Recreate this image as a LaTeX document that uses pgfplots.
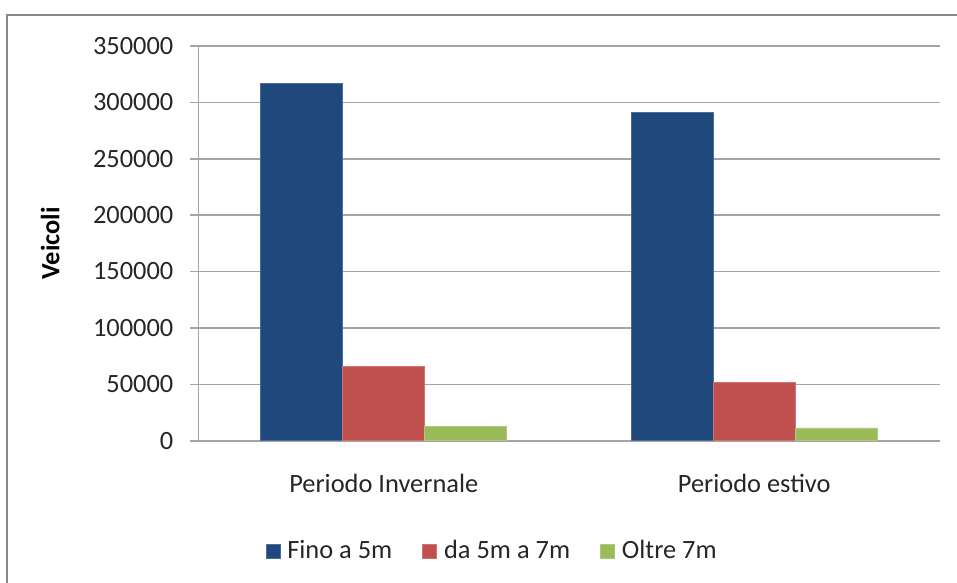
\documentclass[border=0pt]{standalone}
\usepackage{pgfplots}
\pgfplotsset{compat=1.18}
\usepackage{fontspec}
\setmainfont{Carlito}
\definecolor{cblue}{HTML}{1F497D}
\definecolor{cred}{HTML}{C0504D}
\definecolor{cgreen}{HTML}{9BBB59}
\definecolor{cgrid}{HTML}{A4A4A4}
\definecolor{cframe}{HTML}{878787}
\begin{document}
\fontsize{13.2bp}{15.8bp}\selectfont
\begin{tikzpicture}
\begin{axis}[
  at={(0,0)}, anchor=south west,
  scale only axis,
  width=370.5bp, height=197.4bp,
  ybar=0pt, bar width=41bp,
  xmin=-0.5, xmax=1.5,
  ymin=0, ymax=350000,
  xtick={0,1},
  xticklabels={Periodo Invernale, Periodo estivo},
  minor xtick={-0.5,0.5,1.5},
  ytick={0,50000,100000,150000,200000,250000,300000,350000},
  yticklabel style={/pgf/number format/fixed, /pgf/number format/1000 sep={}, xshift=-4bp, text=black!85},
  /pgf/number format/assume math mode=true,
  scaled y ticks=false,
  axis lines*=left,
  axis line style={cgrid, line width=0.8bp},
  tick align=outside,
  major tick length=4bp,
  minor tick length=4bp,
  tick style={cgrid, line width=0.8bp},
  xtick style={draw=none},
  minor x tick style={cgrid, line width=0.8bp},
  ymajorgrids,
  grid style={cgrid, line width=0.8bp},
  xticklabel style={anchor=base, yshift=-22bp, text=black!85},
  ylabel={\textbf{Veicoli}},
  ylabel style={at={(axis description cs:-0.2,0.5)}, anchor=center, rotate=0},
  legend style={at={(axis description cs:0.3976,-0.2794)}, anchor=center, draw=none, fill=none,
    legend columns=3, font=\fontsize{13.2bp}{15.8bp}\selectfont, text=black!85,
    /tikz/every even column/.append style={column sep=13bp}},
  legend image code/.code={\fill[#1] (0bp,-3.5bp) rectangle (7bp,3.5bp);},
  legend cell align=left,
  enlarge x limits=false,
]
\addplot[fill=cblue, draw=cblue!80!white] coordinates {(0,317000) (1,291000)};
\addplot[fill=cred, draw=cred!80!white] coordinates {(0,66000) (1,52000)};
\addplot[fill=cgreen, draw=cgreen!80!white] coordinates {(0,12500) (1,11300)};
\legend{\hspace{1.5bp}Fino a 5m, \hspace{1.5bp}da 5m a 7m, \hspace{1.5bp}Oltre 7m}
\end{axis}
\draw[cframe, line width=1bp] (-95.75bp,-90bp) -- (-95.75bp,212.85bp) -- (400bp,212.85bp);
\pgfresetboundingbox
\useasboundingbox (-99.25bp,-71.15bp) rectangle (379.25bp,220.35bp);
\end{tikzpicture}
\end{document}
